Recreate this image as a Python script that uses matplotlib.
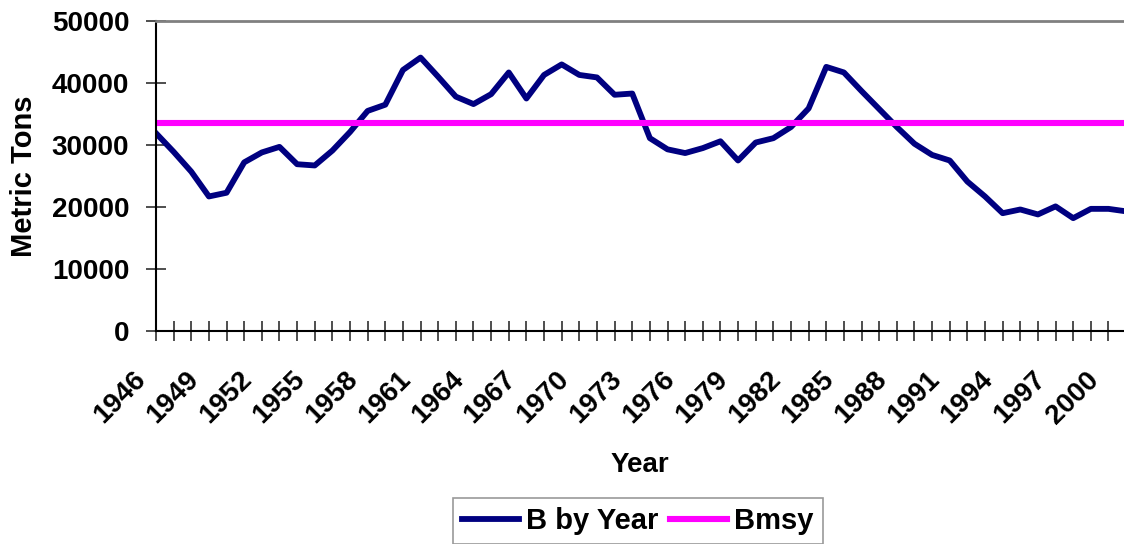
import numpy as np
import matplotlib
matplotlib.use('agg')
import matplotlib.pyplot as plt
from matplotlib.transforms import ScaledTranslation

plt.rcParams['font.family'] = ['Liberation Sans', 'DejaVu Sans']
plt.rcParams['font.weight'] = 'bold'

# biomass by year (metric tons)
years = list(range(1946, 2002))
biomass = [31900, 28900, 25700, 21700, 22300, 27200, 28800, 29700, 26900, 26700,
           29100, 32100, 35500, 36500, 42100, 44100, 41000, 37800, 36600, 38200,
           41700, 37500, 41300, 43000, 41300, 40900, 38100, 38300, 31100, 29300,
           28700, 29500, 30600, 27500, 30400, 31100, 32900, 35900, 42600, 41700,
           38700, 35800, 32900, 30200, 28400, 27500, 24100, 21700, 19000, 19600,
           18800, 20100, 18200, 19700, 19700, 19300]
bmsy_value = 33600
bmsy = [bmsy_value] * len(years)
label_years = list(range(1946, 2001, 3))

fig = plt.figure(figsize=(11.24, 5.44), dpi=100)
ax = fig.add_axes([156/1124, 213/544, 968/1124, 310/544])

ax.plot(years, biomass, color='#000080', lw=4.2, label='B by Year')
ax.plot(years, bmsy, color='#FF00FF', lw=4.4, label='Bmsy')

ax.set_xlim(1946, 2000.88)
ax.set_ylim(0, 50000)
ax.set_yticks(np.arange(0, 50001, 10000))
ax.set_xticks(years[:-1])
ax.set_xticklabels([str(y) if y in label_years else '' for y in years[:-1]],
                   rotation=45, ha='right', va='center', rotation_mode='anchor')

ax.tick_params(axis='both', direction='inout', length=14.4, width=1.3, color='#404040',
               labelsize=20)
ax.tick_params(axis='y', pad=12)
ax.tick_params(axis='x', pad=2)
for lab in ax.get_xticklabels():
    lab.set_transform(lab.get_transform() + ScaledTranslation(-0.14, -0.32, fig.dpi_scale_trans))

for s in ['left', 'bottom']:
    ax.spines[s].set_color('black')
    ax.spines[s].set_linewidth(1.5)
ax.spines['top'].set_color('#808080')
ax.spines['top'].set_linewidth(2)
ax.spines['right'].set_visible(False)

ax.set_xlabel('Year', fontsize=20, fontweight='bold', va='center')
ax.xaxis.set_label_coords(0.5, (331-465)/310)
ax.set_ylabel('Metric Tons', fontsize=21, fontweight='bold', va='center', ha='center')
ax.yaxis.set_label_coords((24-156)/968, 0.5)

leg = fig.legend(loc='center', bbox_to_anchor=(638/1124, 1-521/544), ncol=2,
                 fontsize=21, frameon=True, fancybox=False, edgecolor='#808080',
                 handlelength=1.95, handletextpad=0.25, columnspacing=0.4,
                 borderpad=0.3, borderaxespad=0)
leg.get_frame().set_linewidth(1.2)

fig.savefig('out.png', dpi=100)
